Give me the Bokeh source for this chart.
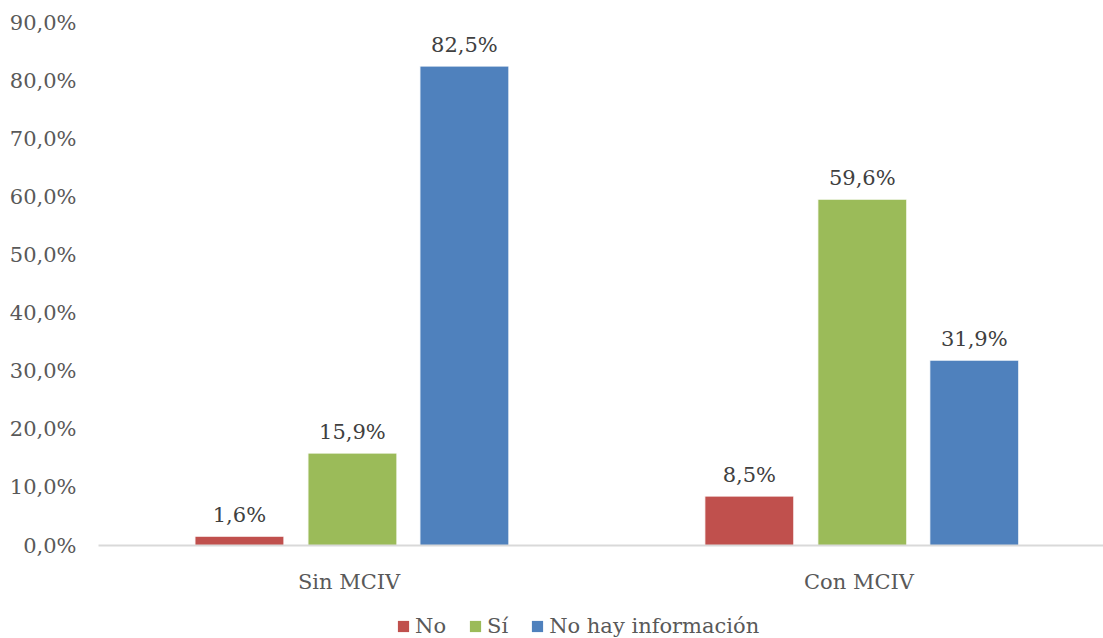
from bokeh.plotting import figure
from bokeh.layouts import column
from bokeh.core.properties import value
from bokeh.models import ColumnDataSource, FixedTicker, Range1d, Legend, LegendItem, LabelSet
from bokeh.embed import file_html
from bokeh.resources import INLINE

categories = ["Sin  MCIV", "Con  MCIV"]
series = ["No", "Sí", "No hay información"]
values_no = [1.6, 8.5]
values_si = [15.9, 59.6]
values_nohay = [82.5, 31.9]
colors = ["#C0504D", "#9BBB59", "#4F81BD"]
y_ticks = [0, 10, 20, 30, 40, 50, 60, 70, 80, 90]
y_tick_labels = ["0,0%", "10,0%", "20,0%", "30,0%", "40,0%", "50,0%", "60,0%", "70,0%", "80,0%", "90,0%"]

FONT = "DejaVu Serif"
FS = "21px"

p = figure(width=1103, height=600, output_backend="svg", toolbar_location=None,
           x_range=Range1d(-0.498, 1.473), y_range=Range1d(0, 90),
           min_border_left=98, min_border_right=0, min_border_top=22, min_border_bottom=55)
p.outline_line_color = None
p.xgrid.visible = False
p.ygrid.visible = False

offsets = [-0.2216, 0.0, 0.2196]
bar_w = 0.1745
all_vals = [values_no, values_si, values_nohay]
for i, (name, vals, col) in enumerate(zip(series, all_vals, colors)):
    xs = [j + offsets[i] for j in range(len(categories))]
    src = ColumnDataSource(dict(x=xs, top=vals,
                                lab=[("%.1f%%" % v).replace(".", ",") for v in vals]))
    p.vbar(x="x", top="top", width=bar_w, source=src, fill_color=col,
           line_color="#FFFFFF", line_width=1)
    lbl = LabelSet(x="x", y="top", text="lab", source=src, text_align="center",
                   text_baseline="bottom", y_offset=9, text_font=value(FONT),
                   text_font_size=value(FS), text_color="#404040")
    p.add_layout(lbl)

p.xaxis.ticker = FixedTicker(ticks=list(range(len(categories))))
p.xaxis.major_label_overrides = {i: c for i, c in enumerate(categories)}
p.xaxis.major_tick_line_color = None
p.xaxis.minor_tick_line_color = None
p.xaxis.axis_line_color = "#D9D9D9"
p.xaxis.axis_line_width = 2
p.xaxis.major_label_text_font = FONT
p.xaxis.major_label_text_font_size = FS
p.xaxis.major_label_text_color = "#595959"
p.xaxis.major_label_standoff = 18

p.yaxis.ticker = FixedTicker(ticks=y_ticks)
p.yaxis.major_label_overrides = {t: l for t, l in zip(y_ticks, y_tick_labels)}
p.yaxis.axis_line_color = None
p.yaxis.major_tick_line_color = None
p.yaxis.minor_tick_line_color = None
p.yaxis.major_label_text_font = FONT
p.yaxis.major_label_text_font_size = FS
p.yaxis.major_label_text_color = "#595959"
p.yaxis.major_label_standoff = 16

# legend in its own strip below the chart
lf = figure(width=1103, height=38, output_backend="svg", toolbar_location=None,
            x_axis_type=None, y_axis_type=None,
            x_range=Range1d(0, 1), y_range=Range1d(0, 1),
            min_border_left=0, min_border_right=0, min_border_top=0, min_border_bottom=0)
lf.grid.visible = False
lf.outline_line_color = None
leg_renderers = []
for col in colors:
    # placeholder glyph outside the visible range, only used for the legend swatch
    leg_renderers.append(lf.vbar(x=[5], top=[5], width=0.1, fill_color=col, line_color=None))

legend = Legend(items=[LegendItem(label=s, renderers=[r]) for s, r in zip(series, leg_renderers)],
                orientation="horizontal", location=(298, 0),
                label_text_font=FONT, label_text_font_size=FS, label_text_color="#595959",
                glyph_width=14, glyph_height=14, spacing=22, label_standoff=5,
                label_height=20,
                border_line_color=None, background_fill_alpha=0, padding=0, margin=0)
lf.add_layout(legend, "center")

layout = column(p, lf, spacing=0)
open("out.html", "w").write(file_html(layout, INLINE))
